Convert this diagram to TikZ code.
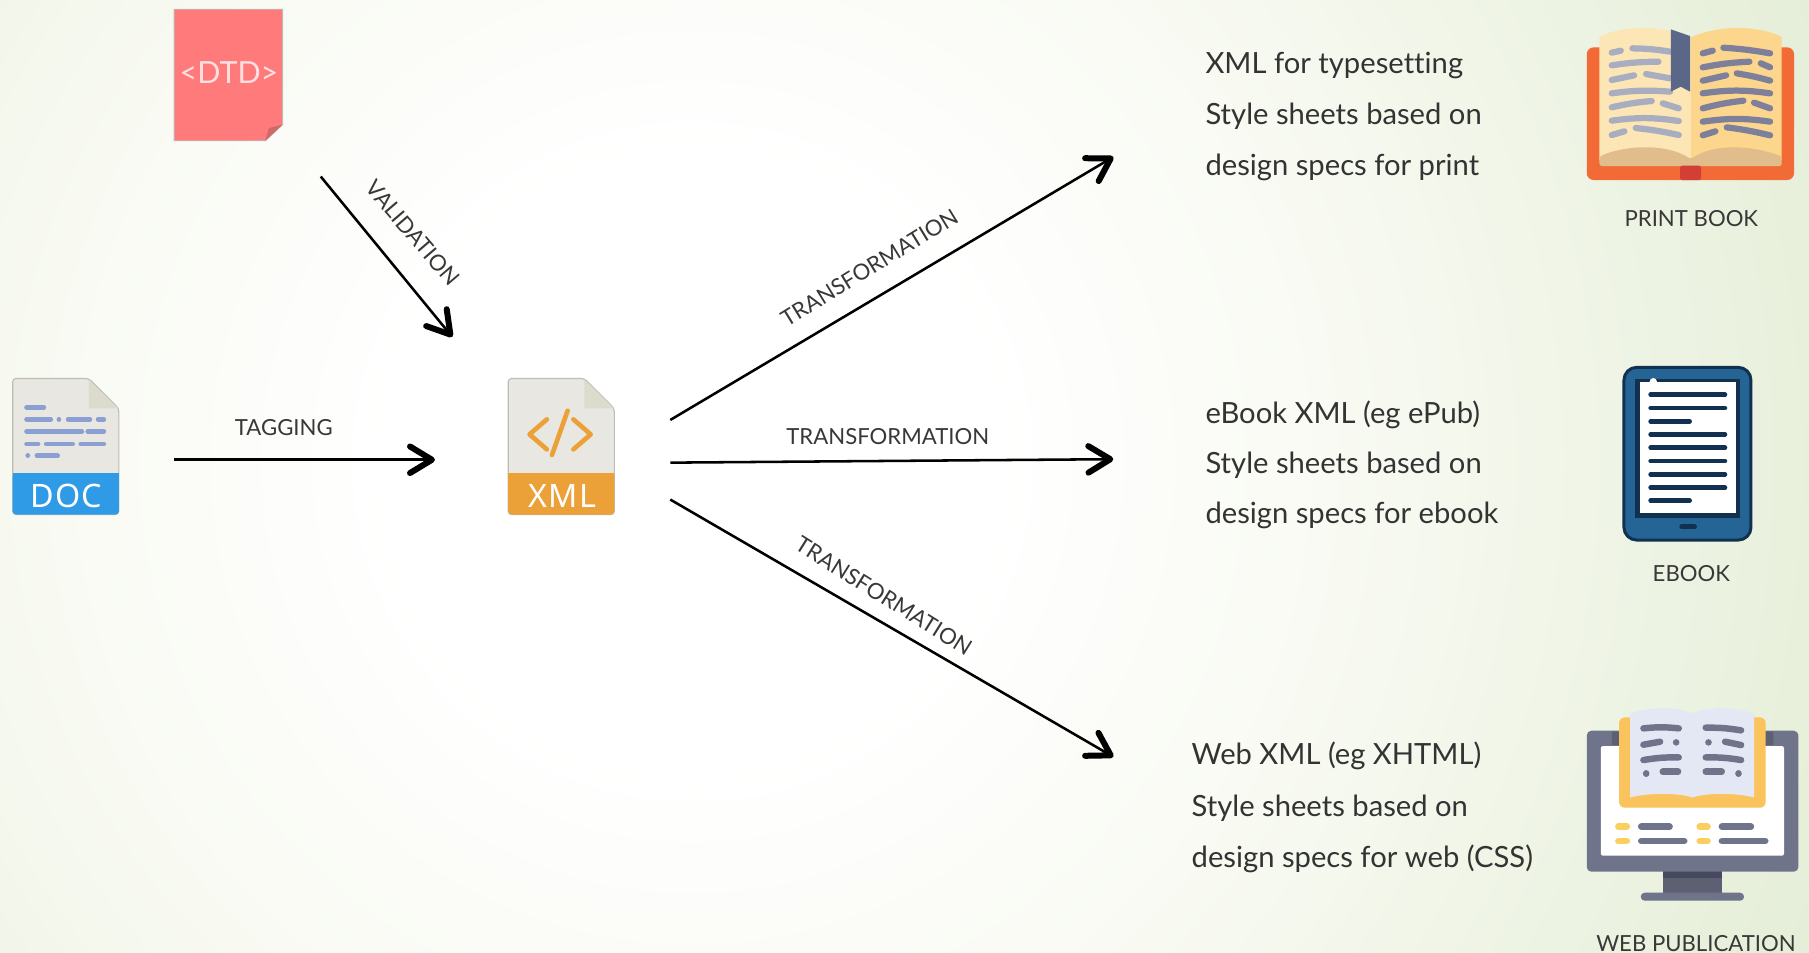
\documentclass[tikz,border=0pt]{standalone}
\usepackage{fontspec}
\setmainfont[Ligatures=NoCommon]{Lato}
\newfontfamily\iconfont[LetterSpace=3]{Noto Sans}
\usetikzlibrary{arrows.meta}
\definecolor{bgA}{HTML}{FFFFFF}
\definecolor{bgB}{HTML}{F8FAF2}
\definecolor{bgC}{HTML}{E3EDD5}
\pgfdeclareradialshading{bgshade}{\pgfpointorigin}{color(0bp)=(bgA); color(6bp)=(bgA); color(13bp)=(bgB); color(25bp)=(bgC); color(50bp)=(bgC)}
\definecolor{filebody}{HTML}{E8E7E1}
\definecolor{filefold}{HTML}{DCDBCD}
\definecolor{fileedge}{HTML}{BDBDB8}
\definecolor{docblue}{HTML}{2F9AE6}
\definecolor{docline}{HTML}{8C9FD2}
\definecolor{xmlorange}{HTML}{EBA038}
\definecolor{dtdred}{HTML}{FF7A7A}
\definecolor{dtdfold}{HTML}{D06A6A}
\definecolor{dtdtext}{HTML}{FFE0E0}
\definecolor{bkcover}{HTML}{F26A35}
\definecolor{bkleft}{HTML}{FDE6B5}
\definecolor{bkright}{HTML}{FCD68C}
\definecolor{bktan}{HTML}{E0BD8A}
\definecolor{bkred}{HTML}{D33F35}
\definecolor{bkmark}{HTML}{5A6788}
\definecolor{bkll}{HTML}{A9ADC0}
\definecolor{bkrl}{HTML}{7E7F9B}
\definecolor{erblue}{HTML}{256596}
\definecolor{erdark}{HTML}{12304F}
\definecolor{mongrey}{HTML}{70748A}
\definecolor{mondark}{HTML}{5D6073}
\definecolor{monstrip}{HTML}{474A5E}
\definecolor{wbcover}{HTML}{FBC35C}
\definecolor{wbpage}{HTML}{E4E8F4}
\definecolor{wbdash}{HTML}{FBCF5E}
\tikzset{
  conn/.style={draw=black,line width=1.1pt,-{Straight Barb[length=9.5pt,width=11.5pt,line width=2.6pt,round]}},
  bodytext/.style={anchor=west,inner sep=0pt,font=\fontsize{12.65}{14}\selectfont,text=black!80},
  smalllabel/.style={inner sep=0pt,font=\fontsize{9.6}{11}\selectfont,text=black!78},
  icontext/.style={inner sep=0pt,font=\iconfont\fontsize{14}{16}\selectfont,text=white},
  icon/.style={x=0.14445pt,y=-0.14445pt},
  filelines/.style={line cap=round,line width=2pt,docline},
  ll/.style={line cap=round,line width=2.7pt,bkll},
  rl/.style={line cap=round,line width=2.7pt,bkrl},
  el/.style={line cap=round,line width=2pt,erdark},
  wl/.style={line cap=round,line width=2.8pt,mongrey},
  wd/.style={line cap=round,line width=2.9pt,wbdash},
  wg/.style={line cap=round,line width=3pt,mongrey},
}
\newcommand{\fileshape}[2]{% #1 x-left, #2 band colour
  \begin{scope}[shift={(#1,0)}]
    \fill[filebody,draw=fileedge,line width=.5pt,rounded corners=1.5pt] (0,328) -- (66,328) -- (92,354) -- (92,446) -- (0,446) -- cycle;
    \fill[filefold] (66,329) -- (91.5,354) -- (66,354) -- cycle;
    \fill[#2,rounded corners=1.5pt] (0,410) -- (92,410) -- (92,446) -- (0,446) -- cycle;
    \fill[#2] (0,410) rectangle (92,420);
  \end{scope}}
\begin{document}
\begin{tikzpicture}[x=0.5pt,y=-0.5pt]
\useasboundingbox (0,0) rectangle (1568,826);
\begin{scope}
  \clip (0,0) rectangle (1568,826);
  \shade[shading=bgshade] (600,400) circle (1100);
\end{scope}

% DTD page
\fill[dtdred,draw=fileedge,line width=.4pt] (151,8) -- (245,8) -- (245,108) -- (230,122) -- (151,122) -- cycle;
\fill[dtdfold] (230,122) -- (233,111) -- (245,108) -- cycle;
\node[inner sep=0pt,font=\fontsize{13.2}{15}\selectfont,text=dtdtext] (dtd) at (198.5,62.5) {<DTD>};

% DOC file
\fileshape{11}{docblue}
\node[icontext] (doc) at (57.5,430) {DOC};
\draw[filelines] (23,353) -- (38,353);
\draw[filelines] (23,363.5) -- (44,363.5) (51,363.5) -- (51.1,363.5) (59,363.5) -- (78,363.5) (85,363.5) -- (90,363.5);
\draw[filelines] (23,374) -- (71,374) (76,374) -- (90,374);
\draw[filelines] (23,384.8) -- (33,384.8) (40,384.8) -- (63,384.8) (70,384.8) -- (90,384.8);
\draw[filelines] (24,395) -- (24.1,395) (32,395) -- (50,395);

% XML file
\fileshape{440.5}{xmlorange}
\node[icontext] (xml) at (487.5,430) {XML};
\draw[xmlorange,line width=2pt,line cap=round,line join=round] (474,363.5) -- (459,376.5) -- (474,389.5) (497,363.5) -- (512,376.5) -- (497,389.5) (492,356) -- (478.4,394.4);

% connector ends
\coordinate (valS) at (278,153);
\coordinate (valE) at (392,292);
\coordinate (tagS) at (151,398.5);
\coordinate (tagE) at (377,398.5);
\coordinate (trAS) at (581,364);
\coordinate (trAE) at (965,136);
\coordinate (trBS) at (581,401);
\coordinate (trBE) at (965,398);
\coordinate (trCS) at (581,433);
\coordinate (trCE) at (965,656);
\draw[conn] (valS) -- (valE);
\draw[conn] (tagS) -- (tagE);
\draw[conn] (trAS) -- (trAE);
\draw[conn] (trBS) -- (trBE);
\draw[conn] (trCS) -- (trCE);

% connector labels
\node[smalllabel,rotate=-49.5] (lval) at (358,202) {VALIDATION};
\node[smalllabel] (ltag) at (246,371) {TAGGING};
\node[smalllabel,rotate=31.5] (ltrA) at (753.5,232) {TRANSFORMATION};
\node[smalllabel] (ltrB) at (769.5,378) {TRANSFORMATION};
\node[smalllabel,rotate=-32] (ltrC) at (766,516.5) {TRANSFORMATION};

% body text
\node[bodytext] (a1) at (1044.5,57) {XML for typesetting};
\node[bodytext] (a2) at (1044.5,100.5) {Style sheets based on};
\node[bodytext] (a3) at (1044.5,145) {design specs for print};
\node[bodytext] (b1) at (1044.5,359.5) {eBook XML (eg ePub)};
\node[bodytext] (b2) at (1044.5,403) {Style sheets based on};
\node[bodytext] (b3) at (1044.5,447) {design specs for ebook};
\node[bodytext] (c1) at (1032.5,655.5) {Web XML (eg XHTML)};
\node[bodytext] (c2) at (1032.5,700.5) {Style sheets based on};
\node[bodytext] (c3) at (1032.5,744) {design specs for web (CSS)};
\node[smalllabel] (lp) at (1466,189) {PRINT BOOK};
\node[smalllabel] (le) at (1466,497) {EBOOK};
\node[smalllabel] (lw) at (1470,818) {WEB PUBLICATION};

% print book
\begin{scope}[shift={(1360.9,8.67)},icon]
  \fill[bkcover,rounded corners=3pt] (50,112) rectangle (672,510);
  \fill[bkleft] (88,80) .. controls (150,50) and (260,40) .. (362,82) -- (362,450) -- (88,450) -- cycle;
  \fill[bkright] (362,82) .. controls (460,40) and (570,50) .. (635,80) -- (635,450) -- (362,450) -- cycle;
  \fill[bktan,rounded corners=1pt] (88,440) .. controls (150,410) and (280,395) .. (362,447) .. controls (440,395) and (560,410) .. (635,440) -- (635,468) -- (88,468) -- cycle;
  \fill[bkred,rounded corners=1pt] (330,467) rectangle (393,510);
  \draw[ll] (125,128) -- (152,122) (187,115) to[bend left=4] (300,125);
  \draw[ll] (125,166) to[bend left=4] (265,155);
  \draw[ll] (125,210) -- (192,196) (228,192) -- (300,205);
  \draw[ll] (125,250) to[bend left=6] (300,245);
  \draw[ll] (125,292) to[bend left=4] (245,273) (278,280) -- (326,295);
  \draw[ll] (125,332) to[bend left=8] (326,333);
  \draw[ll] (125,375) -- (163,364) (197,354) to[bend left=3] (326,375);
  \fill[bkmark] (302,58) -- (360,78) -- (360,245) -- (332,230) -- (302,245) -- cycle;
  \draw[rl] (398,130) -- (428,122) (460,113) to[bend left=3] (600,130);
  \draw[rl] (398,172) to[bend left=4] (538,155) (572,160) -- (600,172);
  \draw[rl] (398,212) -- (468,196) (500,190) to[bend left=3] (600,212);
  \draw[rl] (398,250) to[bend left=8] (600,250);
  \draw[rl] (398,295) to[bend left=4] (520,272) (552,278) -- (600,295);
  \draw[rl] (398,335) to[bend left=8] (600,335);
  \draw[rl] (398,376) -- (436,364) (470,352) to[bend left=3] (600,376);
\end{scope}

% ebook reader
\begin{scope}[shift={(1386.8,303.4)},icon]
  \fill[erblue,draw=erdark,line width=1.3pt,rounded corners=5.5pt] (72,52) rectangle (453,570);
  \fill[erdark] (106,88) rectangle (420,505);
  \fill[white] (120,97) rectangle (407,490);
  \fill[white] (160,95) circle (11);
  \draw[el] (152,134) -- (375,134) (152,174) -- (375,174) (152,214) -- (269,214)
    (152,253) -- (375,253) (152,293) -- (375,293) (152,333) -- (375,333)
    (152,373) -- (375,373) (152,413) -- (375,413) (152,452) -- (269,452);
  \draw[line cap=round,line width=2pt,erdark] (245,530) -- (284,530);
\end{scope}

% web publication
\begin{scope}[shift={(1360.9,598.1)},icon]
  \fill[mondark] (280,540) rectangle (455,612);
  \fill[monstrip] (280,540) rectangle (455,565);
  \fill[mongrey,rounded corners=2pt] (50,122) rectangle (685,545);
  \fill[white,rounded corners=1pt] (92,168) rectangle (642,497);
  \fill[mongrey,rounded corners=1.7pt] (212,608) rectangle (522,632);
  \fill[mondark] (125,125) rectangle (150,165) (585,125) rectangle (610,165);
  \fill[wbcover,rounded corners=2.5pt] (147,82) rectangle (587,353);
  \fill[wbpage] (180,70) .. controls (240,50) and (320,48) .. (367,70) .. controls (415,48) and (495,50) .. (552,70) -- (552,322) .. controls (495,308) and (415,308) .. (367,322) .. controls (320,308) and (240,308) .. (180,322) -- cycle;
  \draw[wl] (220,115) to[bend left=6] (326,115);
  \draw[wl] (220,164) -- (270,155) (318,157) -- (318.5,157);
  \draw[wl] (220,210) to[bend left=5] (326,202);
  \draw[wl] (228,251) -- (228.5,251) (278,245) -- (324,245);
  \draw[wl] (407,113) to[bend left=5] (513,121);
  \draw[wl] (415,157) -- (415.5,157) (465,155) -- (513,165);
  \draw[wl] (407,202) to[bend left=5] (513,210);
  \draw[wl] (407,245) -- (455,245) (505,251) -- (505.5,251);
  \draw[wd] (145,410) -- (170,410) (145,453) -- (170,453) (389,410) -- (412,410) (389,453) -- (412,453);
  \draw[wg] (214,410) -- (298,410) (214,453) -- (342,453) (456,410) -- (542,410) (456,453) -- (585,453);
\end{scope}
\end{tikzpicture}
\end{document}
